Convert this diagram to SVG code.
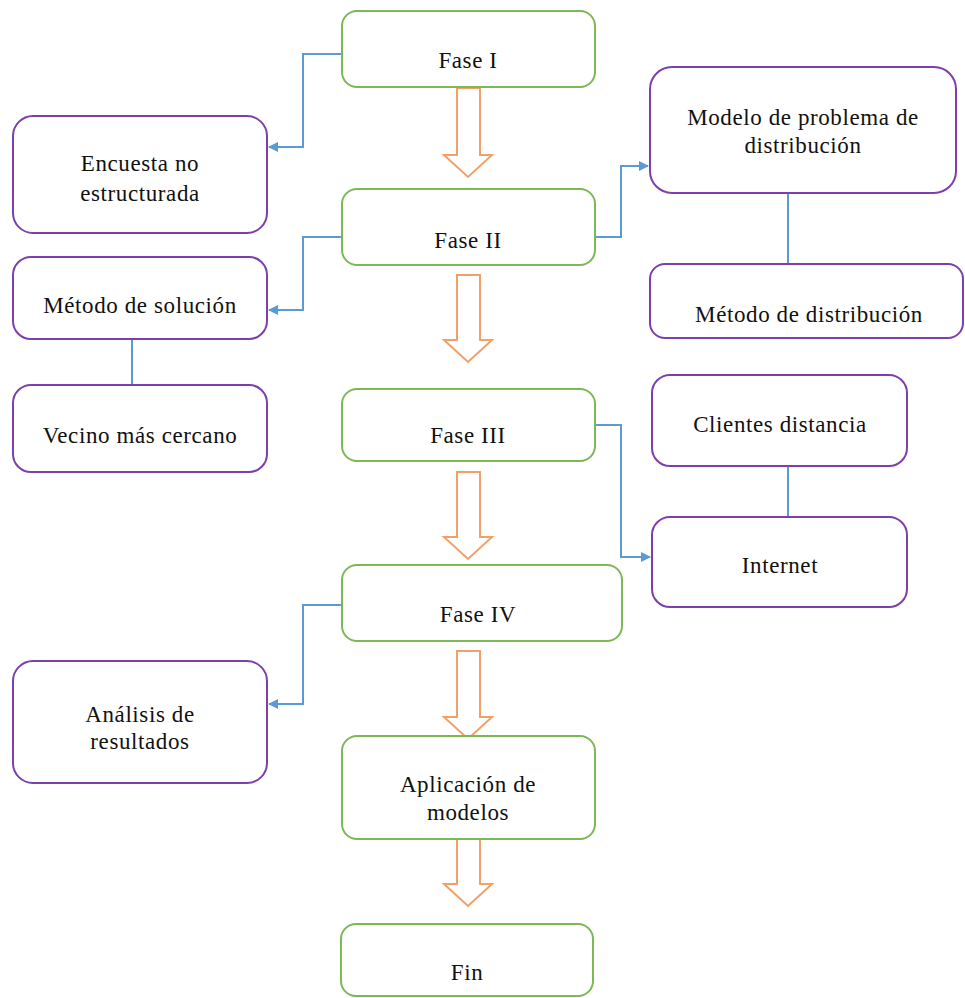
<svg xmlns="http://www.w3.org/2000/svg" width="965" height="998" viewBox="0 0 965 998">
<defs>
<style>
.g{fill:#fff;stroke:#7DB856;stroke-width:2}
.p{fill:#fff;stroke:#7E3FAE;stroke-width:2}
.c{fill:none;stroke:#5B9BD5;stroke-width:2}
.o{fill:#fff;stroke:#F3A066;stroke-width:2;stroke-linejoin:miter}
.t{font-family:"Times New Roman",Times,Tinos,"Liberation Serif","Noto Serif","DejaVu Serif",serif;font-size:23px;fill:#111;text-anchor:middle;letter-spacing:0.6px}
</style>
<marker id="ah" markerWidth="10" markerHeight="10" refX="9" refY="5" orient="auto" markerUnits="userSpaceOnUse">
<path d="M0,0 L10,5 L0,10 Z" fill="#5B9BD5"/>
</marker>
</defs>
<rect width="965" height="998" fill="#fff"/>
<g id="connectors">
<path class="c" d="M342,54 H303 V147 H269" marker-end="url(#ah)"/>
<path class="c" d="M342,237 H303 V310 H269" marker-end="url(#ah)"/>
<path class="c" d="M595,237 H621 V166 H648" marker-end="url(#ah)"/>
<path class="c" d="M788,193 V264"/>
<path class="c" d="M132,339 V385"/>
<path class="c" d="M595,425 H621 V557 H650" marker-end="url(#ah)"/>
<path class="c" d="M788,466 V517"/>
<path class="c" d="M342,605 H303 V704 H269" marker-end="url(#ah)"/>
<path class="o" d="M457,88 H480 V155 H492 L468,177 L444,155 H457 Z"/>
<path class="o" d="M457,275 H480 V340 H492 L468,362 L444,340 H457 Z"/>
<path class="o" d="M457,472 H480 V537 H492 L468,559 L444,537 H457 Z"/>
<path class="o" d="M457,651 H480 V717 H492 L468,739 L444,717 H457 Z"/>
<path class="o" d="M457,838 H480 V884 H492 L468,906 L444,884 H457 Z"/>
</g>
<g id="fase1"><rect class="g" x="342" y="11" width="253" height="76" rx="15"/><text class="t" x="468" y="68">Fase I</text></g>
<g id="fase2"><rect class="g" x="342" y="189" width="253" height="76" rx="15"/><text class="t" x="468" y="248">Fase II</text></g>
<g id="fase3"><rect class="g" x="342" y="389" width="253" height="72" rx="15"/><text class="t" x="468" y="443">Fase III</text></g>
<g id="fase4"><rect class="g" x="342" y="565" width="280" height="76" rx="15"/><text class="t" x="478" y="622">Fase IV</text></g>
<g id="aplicacion"><rect class="g" x="342" y="736" width="253" height="103" rx="15"/><text class="t" x="468" y="792">Aplicación de</text><text class="t" x="468" y="820">modelos</text></g>
<g id="fin"><rect class="g" x="341" y="924" width="252" height="72" rx="15"/><text class="t" x="467" y="980">Fin</text></g>
<g id="encuesta"><rect class="p" x="13" y="116" width="254" height="117" rx="20"/><text class="t" x="140" y="171">Encuesta no</text><text class="t" x="140" y="201">estructurada</text></g>
<g id="metodo-solucion"><rect class="p" x="13" y="257" width="254" height="82" rx="18"/><text class="t" x="140" y="313">Método de solución</text></g>
<g id="vecino"><rect class="p" x="13" y="385" width="254" height="87" rx="18"/><text class="t" x="140" y="443">Vecino más cercano</text></g>
<g id="analisis"><rect class="p" x="13" y="661" width="254" height="122" rx="20"/><text class="t" x="140" y="722">Análisis de</text><text class="t" x="140" y="749">resultados</text></g>
<g id="modelo"><rect class="p" x="650" y="67" width="306" height="126" rx="22"/><text class="t" x="803" y="125">Modelo de problema de</text><text class="t" x="803" y="153">distribución</text></g>
<g id="metodo-distribucion"><rect class="p" x="650" y="264" width="313" height="74" rx="15"/><text class="t" x="809" y="322">Método de distribución</text></g>
<g id="clientes"><rect class="p" x="652" y="375" width="255" height="91" rx="18"/><text class="t" x="780" y="432">Clientes distancia</text></g>
<g id="internet"><rect class="p" x="652" y="517" width="255" height="90" rx="18"/><text class="t" x="780" y="573">Internet</text></g>
</svg>
